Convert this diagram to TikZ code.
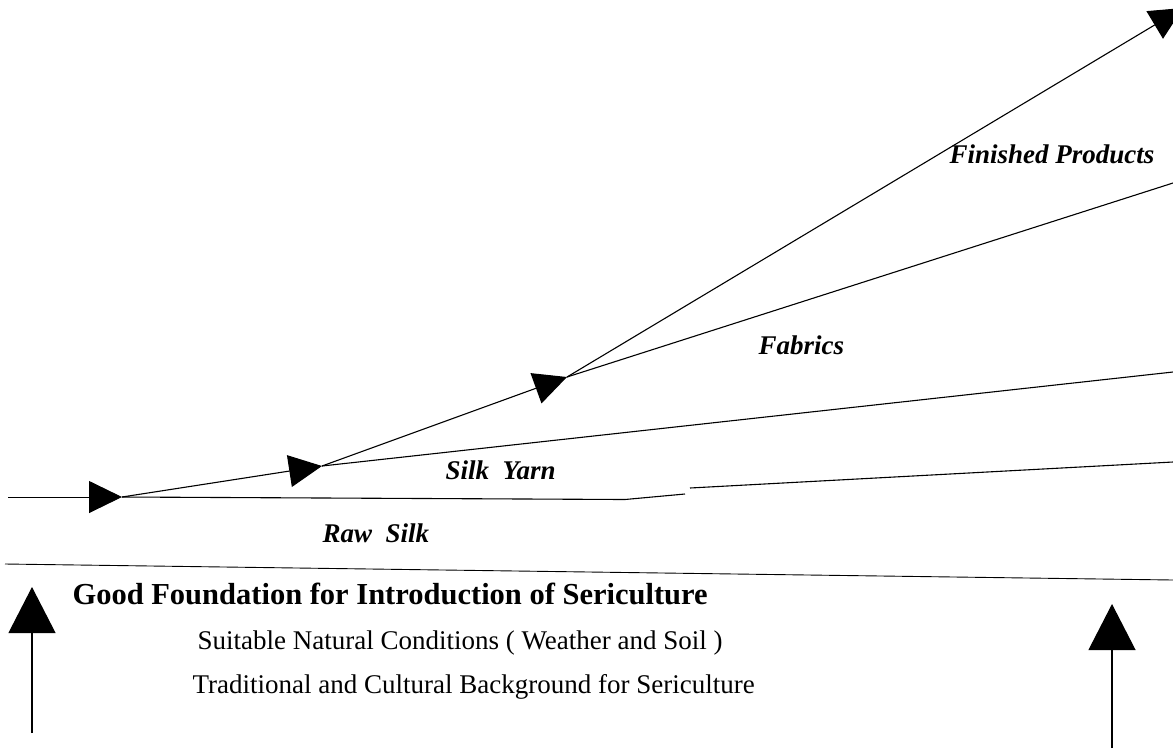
\documentclass[tikz,border=0pt]{standalone}
\usepackage{fontspec}
\setmainfont{Liberation Serif}
\usetikzlibrary{arrows.meta}
\begin{document}
\begin{tikzpicture}[x=1pt,y=-1pt,line width=1.1pt,
  flow/.style={-{Triangle[length=33pt,width=32pt]}},
  rise/.style={-{Triangle[length=46pt,width=47pt]}},
  stage/.style={font=\fontsize{27}{30}\selectfont\bfseries\itshape,anchor=base west,inner sep=0pt},
  headline/.style={font=\fontsize{30.5}{33}\selectfont\bfseries,anchor=base west,inner sep=0pt},
  subline/.style={font=\fontsize{27}{30}\selectfont,anchor=base west,inner sep=0pt}]
\useasboundingbox (0,0) rectangle (1173,748);
\clip (0,0) rectangle (1173,748);

% junction points of the chain
\coordinate (start) at (8,497);
\coordinate (raw) at (122,497);
\coordinate (yarn) at (322,466);
\coordinate (fab) at (567,377);
\coordinate (fin) at (1183,8);

% open ends of the band edges
\coordinate (rawbendA) at (625,499.5);
\coordinate (rawbendB) at (685,494);
\coordinate (rawrestA) at (690,488);
\coordinate (rawrestB) at (1173,462);
\coordinate (yarnend) at (1173,372);
\coordinate (fabend) at (1173,183);
\coordinate (sepA) at (5,564);
\coordinate (sepB) at (1173,580);

% rising arrows
\coordinate (leftfoot) at (32,733);
\coordinate (lefttip) at (32,587);
\coordinate (rightfoot) at (1112,748);
\coordinate (righttip) at (1112,604);

% chain of stages
\draw[flow,line width=0.9pt] (start) -- (raw);
\draw[flow] (raw) -- (yarn);
\draw[flow] (yarn) -- (fab);
\draw[flow] (fab) -- (fin);

% lower edges of each band
\draw (raw) -- (rawbendA) -- (rawbendB);
\draw (rawrestA) -- (rawrestB);
\draw (yarn) -- (yarnend);
\draw (fab) -- (fabend);

% separator
\draw[line width=0.9pt] (sepA) -- (sepB);

\draw[rise] (leftfoot) -- (lefttip);
\draw[rise] (rightfoot) -- (righttip);

% labels
\node[stage] (lfin) at (949,163) {Finished Products};
\node[stage] (lfab) at (758,354) {Fabrics};
\node[stage] (lyarn) at (445,479) {Silk\ \ Yarn};
\node[stage] (lraw) at (322,542) {Raw\ \ Silk};

\node[headline] (head) at (72,604) {Good Foundation for Introduction of Sericulture};
\node[subline] (cond) at (197,649) {Suitable Natural Conditions ( Weather and Soil )};
\node[subline] (trad) at (192,693) {Traditional and Cultural Background for Sericulture};
\end{tikzpicture}
\end{document}
